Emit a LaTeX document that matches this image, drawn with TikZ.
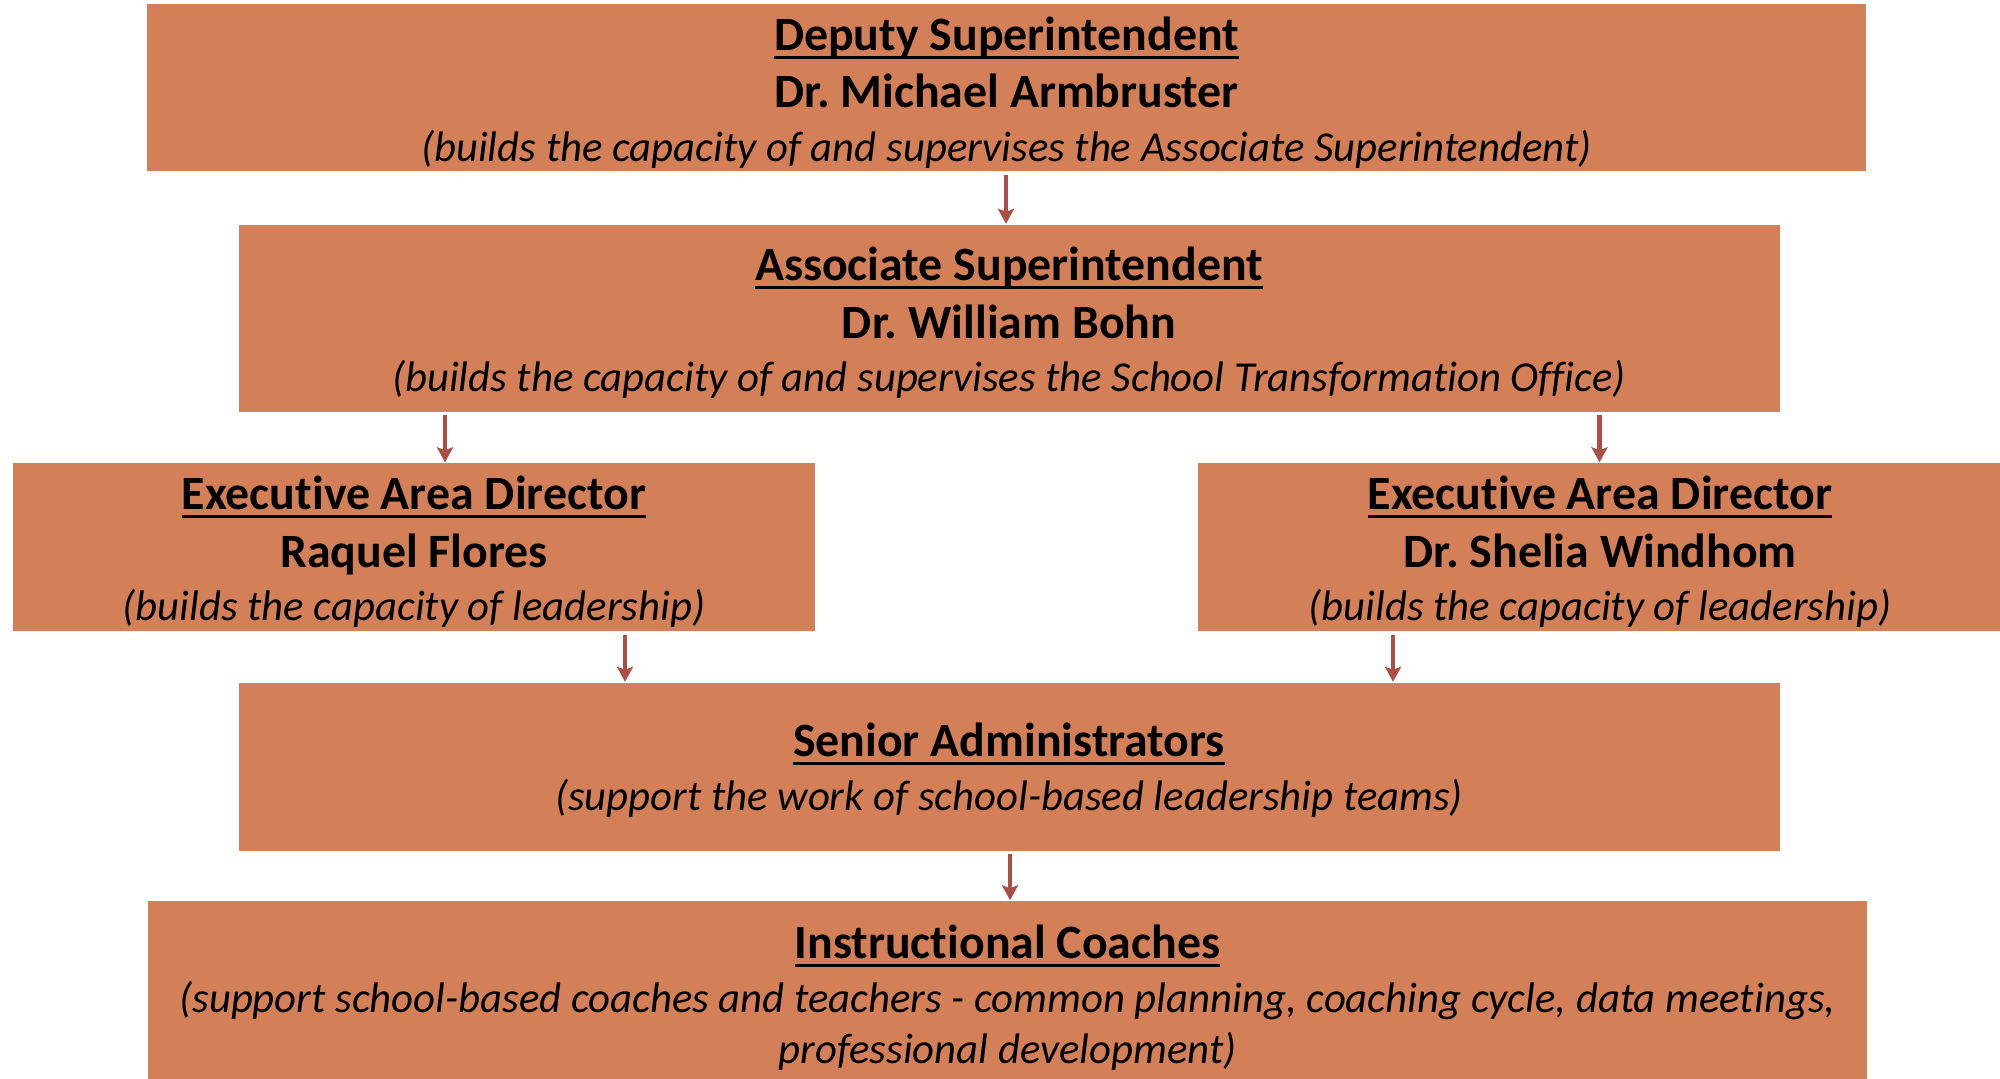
\documentclass[tikz,border=0pt]{standalone}
\usepackage{fontspec}
\setmainfont{Carlito}[Ligatures={NoCommon}]
\usetikzlibrary{arrows.meta}

\definecolor{boxFill}{RGB}{211,128,89}
\definecolor{arrowRed}{RGB}{170,78,70}

\newsavebox{\headbox}
% optional argument: extra room above the first line (moves the text down)
\newcommand{\headline}[2][2.8pt]{{\fontsize{13.6}{14.6}\selectfont\sbox{\headbox}{\textbf{#2}}\rule{0pt}{\dimexpr\ht\headbox+#1\relax}\rlap{\rule[-0.17em]{\wd\headbox}{0.85pt}}\usebox{\headbox}}}
\newcommand{\nameline}[1]{{\fontsize{13.6}{14.6}\selectfont\textbf{#1}}}
\newcommand{\noteline}[1]{\textit{#1}}

\begin{document}
\begin{tikzpicture}
[x=0.01cm, y=-0.01cm,%
  boxDecorate/.style={shape=rectangle,fill=boxFill,align=center,inner sep=0pt},%
  arrowDecorate/.style={draw=arrowRed,line width=1.3pt,-{Stealth[length=0.15cm,width=0.16cm,inset=0.03cm]},shorten <=0.3mm}]
\fontsize{12.15}{14.6}\selectfont\frenchspacing
\useasboundingbox (0,0) rectangle (2000,1078);
%% boxes
\foreach \nodename/\x/\y/\w/\h/\txt in {
  deputy/1006.5/87.5/1719/167/{\headline{Deputy Superintendent}\\[1.7pt] \nameline{Dr. Michael Armbruster}\\[0.6pt] \noteline{(builds the capacity of and supervises the Associate Superintendent)}},
  associate/1009/318/1541/187/{\headline{Associate Superintendent}\\[1.7pt] \nameline{Dr. William Bohn}\\[0.6pt] \noteline{(builds the capacity of and supervises the School Transformation Office)}},
  eadLeft/414/547/802/168/{\headline{Executive Area Director}\\[1.7pt] \nameline{Raquel Flores}\\[0.6pt] \noteline{(builds the capacity of leadership)}},
  eadRight/1600/547/804/168/{\headline{Executive Area Director}\\[1.7pt] \nameline{Dr. Shelia Windhom}\\[0.6pt] \noteline{(builds the capacity of leadership)}},
  senior/1009/766.5/1541/168/{\headline[2.2pt]{Senior Administrators}\\[0.6pt] \noteline{(support the work of school-based leadership teams)}},
  coaches/1007.5/998/1719/194/{\headline[0pt]{Instructional Coaches}\\[0.6pt] \noteline{(support school-based coaches and teachers - common planning, coaching cycle, data meetings,}\\ \noteline{professional development)}}}
{
  \node (\nodename) at (\x,\y) [boxDecorate, minimum width=\w*0.01cm, minimum height=\h*0.01cm] {\txt};
}
%% arrow positions
\foreach \cname/\x in {c1/1006, c2/445, c3/1599.5, c4/625, c5/1393, c6/1010}
{
  \coordinate (\cname) at (\x,0);
}
%% arrows
\path
\foreach \startnode/\endnode/\cname in {deputy/associate/c1, associate/eadLeft/c2, associate/eadRight/c3, eadLeft/senior/c4, eadRight/senior/c5, senior/coaches/c6} {
  (\startnode.south -| \cname) edge[arrowDecorate] (\endnode.north -| \cname)
};
\end{tikzpicture}
\end{document}
